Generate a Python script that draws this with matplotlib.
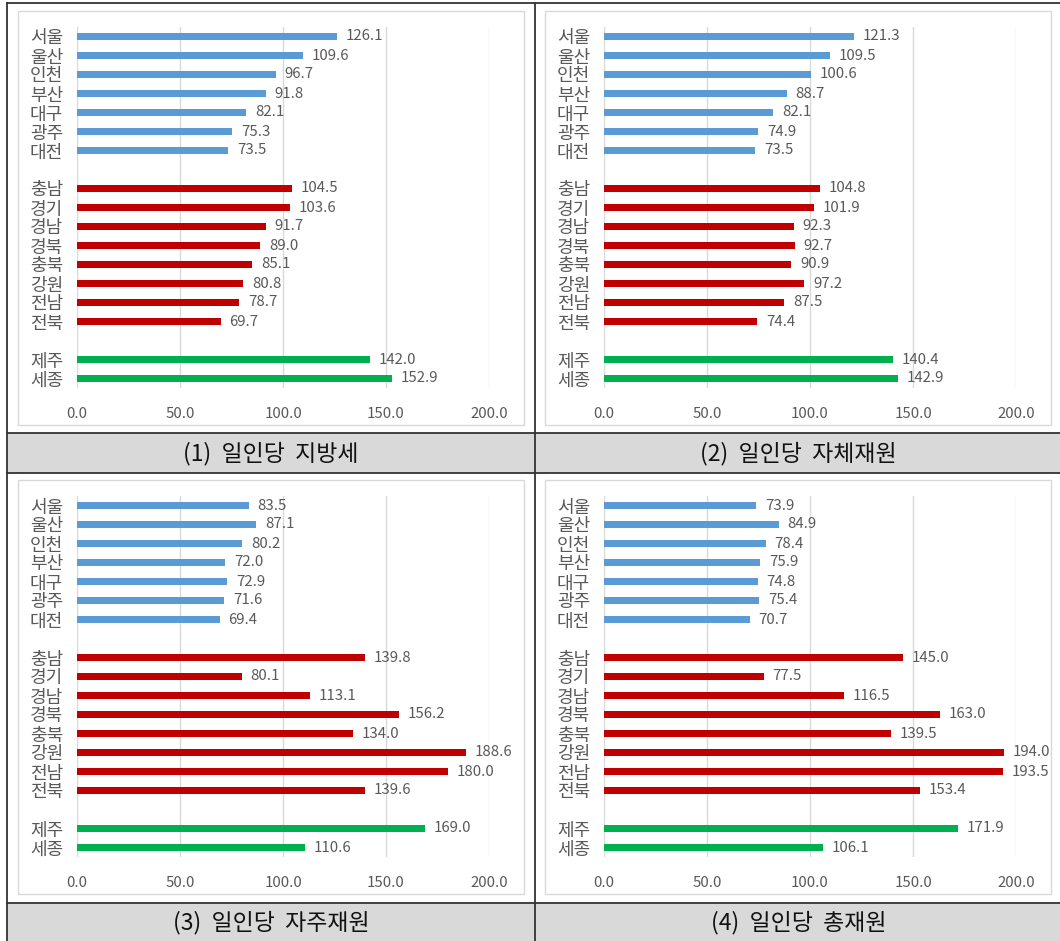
import matplotlib.pyplot as plt
from matplotlib.patches import Rectangle
from matplotlib.lines import Line2D
from matplotlib.ticker import FormatStrFormatter

plt.rcParams["font.family"] = ["Noto Sans CJK KR", "DejaVu Sans"]

# 지역 구분: 광역시 7, 도 8, 특별자치 2
metro = ["서울", "울산", "인천", "부산", "대구", "광주", "대전"]
province = ["충남", "경기", "경남", "경북", "충북", "강원", "전남", "전북"]
special = ["제주", "세종"]

local_tax = [126.1, 109.6, 96.7, 91.8, 82.1, 75.3, 73.5,
             104.5, 103.6, 91.7, 89.0, 85.1, 80.8, 78.7, 69.7,
             142.0, 152.9]
own_revenue = [121.3, 109.5, 100.6, 88.7, 82.1, 74.9, 73.5,
               104.8, 101.9, 92.3, 92.7, 90.9, 97.2, 87.5, 74.4,
               140.4, 142.9]
indep_revenue = [83.5, 87.1, 80.2, 72.0, 72.9, 71.6, 69.4,
                 139.8, 80.1, 113.1, 156.2, 134.0, 188.6, 180.0, 139.6,
                 169.0, 110.6]
total_revenue = [73.9, 84.9, 78.4, 75.9, 74.8, 75.4, 70.7,
                 145.0, 77.5, 116.5, 163.0, 139.5, 194.0, 193.5, 153.4,
                 171.9, 106.1]

titles = ["(1)  일인당  지방세", "(2)  일인당  자체재원",
          "(3)  일인당  자주재원", "(4)  일인당  총재원"]
series = [local_tax, own_revenue, indep_revenue, total_revenue]

BLUE, RED, GREEN = "#5b9bd5", "#c00000", "#00b050"
TEXT = "#595959"
GRID = "#d9d9d9"

W, H = 1060, 941
fig = plt.figure(figsize=(W / 100, H / 100), dpi=100)


def fx(x):
    return x / W


def fy(y):
    return 1 - y / H


def px_axes(x0, y0, x1, y1):
    return fig.add_axes([fx(x0), fy(y1), fx(x1) - fx(x0), fy(y0) - fy(y1)])


# slot positions with an empty row between groups
labels = metro + province + special
slots = list(range(7)) + list(range(8, 16)) + [17, 18]
colors = [BLUE] * 7 + [RED] * 8 + [GREEN] * 2

col_x = [0, 527]
row_y = [0, 469]

for i, vals in enumerate(series):
    dx = col_x[i % 2]
    dy = row_y[i // 2]

    # chart frame
    fig.add_artist(Rectangle((fx(18 + dx), fy(425 + dy)),
                             fx(506), fy(11) - fy(425),
                             transform=fig.transFigure, fill=False,
                             edgecolor=GRID, linewidth=1.0))

    ax = px_axes(77 + dx, 27 + dy, 489 + dx, 388 + dy)
    ax.barh(slots, vals, height=0.36, color=colors, zorder=3)
    for s, v in zip(slots, vals):
        ax.text(v + 4.2, s, f"{v:.1f}", va="center", ha="left",
                fontsize=10.8, color=TEXT, zorder=4)

    ax.set_xlim(0, 200)
    ax.set_ylim(18.5, -0.5)
    ax.set_xticks([0, 50, 100, 150, 200])
    ax.xaxis.set_major_formatter(FormatStrFormatter("%.1f"))
    ax.set_yticks(slots)
    ax.set_yticklabels(labels)
    ax.tick_params(axis="both", length=0, labelcolor=TEXT)
    ax.tick_params(axis="y", pad=10, labelsize=13)
    ax.tick_params(axis="x", pad=14, labelsize=10.8)
    ax.grid(axis="x", color=GRID, linewidth=1.0, zorder=0)
    ax.set_axisbelow(True)
    for sp in ax.spines.values():
        sp.set_visible(False)
    ax.patch.set_visible(False)

    # caption row
    cap_top, cap_bot = 433 + dy, 473 + dy
    if i // 2 == 1:
        cap_top, cap_bot = 903, 941
    left = 7 if i % 2 == 0 else 535
    right = 535 if i % 2 == 0 else 1062
    fig.add_artist(Rectangle((fx(left), fy(cap_bot)), fx(right - left),
                             fy(cap_top) - fy(cap_bot),
                             transform=fig.transFigure, facecolor="#d9d9d9",
                             edgecolor="none", zorder=0))
    fig.text(fx((left + right) / 2), fy((cap_top + cap_bot) / 2 + 1), titles[i],
             ha="center", va="center", fontsize=16.5, color="#111111")

# table rules
for y in [2.5, 433, 473, 903]:
    fig.add_artist(Line2D([fx(7), 1], [fy(y), fy(y)], color="#333333",
                          linewidth=1.3, transform=fig.transFigure))
for x in [7, 535]:
    fig.add_artist(Line2D([fx(x), fx(x)], [fy(2.5), 0], color="#333333",
                          linewidth=1.3, transform=fig.transFigure))

fig.savefig("out.png", dpi=100)
